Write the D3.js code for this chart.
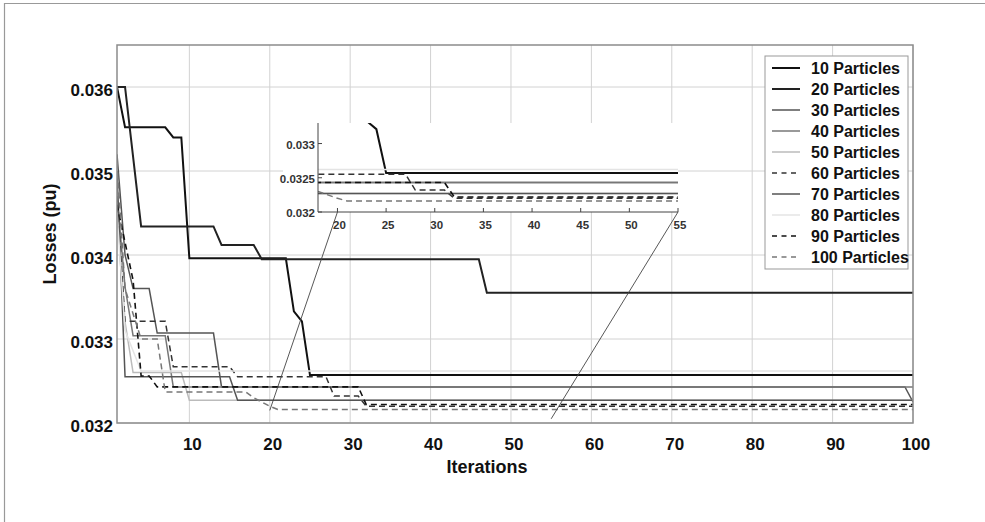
<!DOCTYPE html>
<html>
<head>
<meta charset="utf-8">
<script src="https://cdn.jsdelivr.net/npm/d3@7/dist/d3.min.js"></script>
<style>
body { margin: 0; background: #fff; }
svg text { font-family: "Liberation Sans", Arial, sans-serif; font-weight: bold; fill: #111; }
</style>
</head>
<body>
<svg id="chart" width="985" height="522"></svg>
<script>
// series: [iteration, losses (pu)]
var p10 = [[1,0.036],[2,0.03552],[7,0.03552],[8,0.0354],[9,0.0354],[10,0.03396],[22,0.03396],[23,0.03333],[24,0.03321],[25,0.03257],[100,0.03257]];
var p20 = [[1,0.036],[2,0.036],[4,0.03434],[13,0.03434],[14,0.03412],[18,0.03412],[19,0.03395],[46,0.03395],[47,0.03355],[100,0.03355]];
var p30 = [[1,0.0352],[2,0.034],[3,0.0336],[5,0.0336],[6,0.03307],[13,0.03307],[14,0.03243],[99,0.03243],[100,0.03225]];
var p40 = [[1,0.0347],[2,0.03362],[3,0.03304],[7,0.03304],[8,0.03243],[100,0.03243]];
var p50 = [[1,0.0346],[2,0.0332],[3,0.0326],[9,0.0326],[10,0.03227],[100,0.03227]];
var p60 = [[1,0.0347],[2,0.03321],[7,0.03321],[8,0.03267],[15,0.03267],[16,0.03255],[27,0.03255],[28,0.03232],[31,0.03232],[32,0.0322],[100,0.0322]];
var p70 = [[1,0.035],[2,0.03255],[15,0.03255],[16,0.03227],[100,0.03227]];
var p80 = [[1,0.0345],[2,0.0331],[4,0.03262],[100,0.03262]];
var p90 = [[1,0.0346],[3,0.0337],[4,0.03256],[5,0.03256],[6,0.03243],[31,0.03243],[32,0.03222],[100,0.03222]];
var p100 = [[1,0.0351],[2,0.0336],[4,0.033],[6,0.033],[7,0.03237],[17,0.03237],[18,0.0323],[20,0.0322],[21,0.03216],[100,0.03216]];

var seriesNames = ['10 Particles','20 Particles','30 Particles','40 Particles','50 Particles',
                   '60 Particles','70 Particles','80 Particles','90 Particles','100 Particles'];
var seriesData = [p10, p20, p30, p40, p50, p60, p70, p80, p90, p100];

var xTicks = [10,20,30,40,50,60,70,80,90,100];
var yTicks = [0.032,0.033,0.034,0.035,0.036];
var yTickLabels = ['0.032','0.033','0.034','0.035','0.036'];
var insetXTicks = [20,25,30,35,40,45,50,55];
var insetYTicks = [0.032,0.0325,0.033];
var insetYTickLabels = ['0.032','0.0325','0.033'];

// zoom connector ends: [iteration, losses] in main plot
var zoomFrom = [[20,0.03215],[55,0.03205]];

// line styles, same order as the series
var colors = ['#111','#222','#555','#777','#bbb','#333','#555','#e4e4e4','#111','#777'];
var widths = [2,2,1.5,1.5,1.5,1.5,1.5,1.5,1.6,1.5];
var dashes = [null,null,null,null,null,'6,4',null,null,'6,4','6,4'];

var svg = d3.select('#chart');

// outer frame
svg.append('path').attr('d','M4.5,522V3.5H985')
    .attr('fill','none').attr('stroke','#999').attr('stroke-width',1.2);

var plot = {l:117, r:913, t:45, b:423};
var xScale = d3.scaleLinear().domain([1,100]).range([plot.l, plot.r]);
var yScale = d3.scaleLinear().domain([0.032,0.0365]).range([plot.b, plot.t]);

var gridG = svg.append('g');
gridG.selectAll('.vx').data(xTicks).join('line')
    .attr('x1', d => xScale(d)).attr('x2', d => xScale(d))
    .attr('y1', plot.t).attr('y2', plot.b)
    .attr('stroke','#d2d2d2').attr('stroke-width',1);
gridG.selectAll('.hy').data(yTicks).join('line')
    .attr('x1', plot.l).attr('x2', plot.r)
    .attr('y1', d => yScale(d)).attr('y2', d => yScale(d))
    .attr('stroke','#d2d2d2').attr('stroke-width',1);

svg.append('defs').append('clipPath').attr('id','mainClip')
    .append('rect').attr('x',plot.l).attr('y',plot.t)
    .attr('width',plot.r-plot.l).attr('height',plot.b-plot.t);

var line = d3.line().x(d => xScale(d[0])).y(d => yScale(d[1]));

var linesG = svg.append('g').attr('clip-path','url(#mainClip)');
linesG.selectAll('path').data(seriesData).join('path')
    .attr('d', line)
    .attr('fill','none')
    .attr('stroke', (d,i) => colors[i])
    .attr('stroke-width', (d,i) => widths[i])
    .attr('stroke-dasharray', (d,i) => dashes[i]);

// plot box
svg.append('rect').attr('x',plot.l).attr('y',plot.t)
    .attr('width',plot.r-plot.l).attr('height',plot.b-plot.t)
    .attr('fill','none').attr('stroke','#8c8c8c').attr('stroke-width',1.5);

// tick labels
svg.append('g').selectAll('text').data(xTicks).join('text')
    .attr('x', d => xScale(d) + 3).attr('y', 450)
    .attr('text-anchor','middle').style('font-size','17px')
    .text(d => d);
svg.append('g').selectAll('text').data(yTicks).join('text')
    .attr('x', 113).attr('y', d => yScale(d) + 9)
    .attr('text-anchor','end').style('font-size','17px')
    .text((d,i) => yTickLabels[i]);

svg.append('text').text('Iterations')
    .attr('x',487).attr('y',473).attr('text-anchor','middle')
    .style('font-size','18px');
svg.append('text').text('Losses (pu)')
    .attr('transform','translate(56,234) rotate(-90)')
    .attr('text-anchor','middle').style('font-size','18px');

// ****** inset ******
var ins = {l:318, r:678, t:123, b:212};
var xIn = d3.scaleLinear().domain([18,55]).range([ins.l, ins.r]);
var yIn = d3.scaleLinear().domain([0.032,0.0333]).range([ins.b, ins.t]);

svg.append('rect').attr('x',283).attr('y',ins.t)
    .attr('width',ins.r-283).attr('height',ins.b-ins.t).attr('fill','#fff');

svg.select('defs').append('clipPath').attr('id','insetClip')
    .append('rect').attr('x',ins.l).attr('y',ins.t)
    .attr('width',ins.r-ins.l).attr('height',ins.b-ins.t);

var lineIn = d3.line().x(d => xIn(d[0])).y(d => yIn(d[1]));
svg.append('g').attr('clip-path','url(#insetClip)')
    .selectAll('path').data(seriesData).join('path')
    .attr('d', lineIn)
    .attr('fill','none')
    .attr('stroke', (d,i) => colors[i])
    .attr('stroke-width', (d,i) => widths[i])
    .attr('stroke-dasharray', (d,i) => dashes[i]);

var axG = svg.append('g').attr('stroke','#444').attr('stroke-width',1);
axG.append('line').attr('x1',ins.l).attr('x2',ins.l).attr('y1',ins.t).attr('y2',ins.b);
axG.append('line').attr('x1',ins.l).attr('x2',ins.r).attr('y1',ins.b).attr('y2',ins.b);
axG.selectAll('.tx').data(insetXTicks).join('line')
    .attr('x1', d => xIn(d)).attr('x2', d => xIn(d))
    .attr('y1', ins.b).attr('y2', ins.b - 4);
axG.selectAll('.ty').data(insetYTicks).join('line')
    .attr('x1', ins.l).attr('x2', ins.l + 4)
    .attr('y1', d => yIn(d)).attr('y2', d => yIn(d));

svg.append('g').selectAll('text').data(insetXTicks).join('text')
    .attr('x', d => xIn(d) + 2).attr('y', 229)
    .attr('text-anchor','middle').style('font-size','11.5px').style('fill','#333')
    .text(d => d);
svg.append('g').selectAll('text').data(insetYTicks).join('text')
    .attr('x', 315).attr('y', d => yIn(d) + 5)
    .attr('text-anchor','end').style('font-size','11.5px').style('fill','#333')
    .text((d,i) => insetYTickLabels[i]);

// connector lines
var insetEnds = [[20,0.032],[55,0.032]];
svg.append('g').selectAll('line').data(zoomFrom).join('line')
    .attr('x1', d => xScale(d[0])).attr('y1', d => yScale(d[1]))
    .attr('x2', (d,i) => xIn(insetEnds[i][0])).attr('y2', (d,i) => yIn(insetEnds[i][1]))
    .attr('stroke','#444').attr('stroke-width',0.9);

// ****** legend ******
var leg = {x:765, y:56, w:143, h:213, row:21};
svg.append('rect').attr('x',leg.x).attr('y',leg.y)
    .attr('width',leg.w).attr('height',leg.h)
    .attr('fill','#fff').attr('stroke','#999').attr('stroke-width',1);
var legRows = svg.append('g').selectAll('g').data(seriesNames).join('g')
    .attr('transform', (d,i) => 'translate(0,' + (leg.y + 12 + i*leg.row) + ')');
legRows.append('line')
    .attr('x1', 772).attr('x2', 800).attr('y1', 0).attr('y2', 0)
    .attr('stroke', (d,i) => colors[i])
    .attr('stroke-width', (d,i) => widths[i])
    .attr('stroke-dasharray', (d,i) => dashes[i] ? '5,4.5' : null);
legRows.append('text')
    .attr('x', 811).attr('y', 6)
    .style('font-size','16px')
    .text(d => d);
</script>
</body>
</html>
